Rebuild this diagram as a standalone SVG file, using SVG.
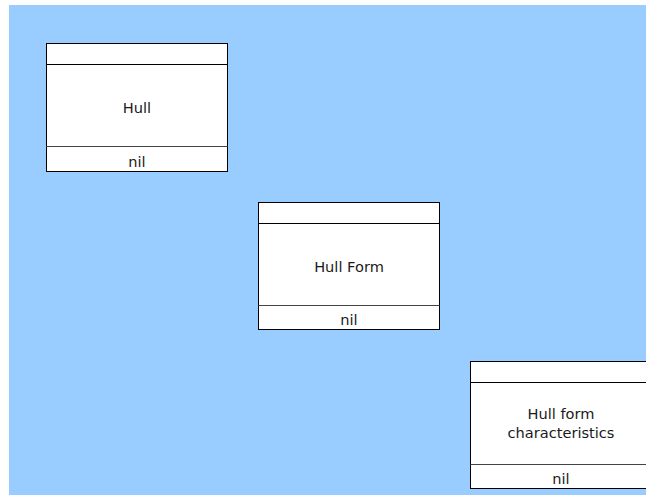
<svg xmlns="http://www.w3.org/2000/svg" width="646" height="495" viewBox="0 0 646 495">
<style>
.box{fill:#ffffff;stroke:#000000;stroke-width:1}
.ln{stroke:#000000;stroke-width:1}
.ln2{stroke:#444444;stroke-width:1}
text{font-family:"DejaVu Sans","Liberation Sans",sans-serif;font-size:14.6px;fill:#1a1a1a;text-anchor:middle}
</style>
<rect x="9" y="5" width="637" height="490" fill="#99ccff"/>
<g id="hull">
<rect class="box" x="46.5" y="43.5" width="181" height="128"/>
<line class="ln" x1="46.5" y1="64.5" x2="227.5" y2="64.5"/>
<line class="ln2" x1="46.5" y1="146.5" x2="227.5" y2="146.5"/>
<text x="137" y="113">Hull</text>
<text x="137" y="166.5">nil</text>
</g>
<g id="hull-form">
<rect class="box" x="258.5" y="202.5" width="181" height="127"/>
<line class="ln" x1="258.5" y1="223.5" x2="439.5" y2="223.5"/>
<line class="ln2" x1="258.5" y1="305.5" x2="439.5" y2="305.5"/>
<text x="349" y="272">Hull Form</text>
<text x="349" y="324.5">nil</text>
</g>
<g id="hull-form-characteristics">
<rect class="box" x="470.5" y="361.5" width="181" height="127"/>
<line class="ln" x1="470.5" y1="382.5" x2="651.5" y2="382.5"/>
<line class="ln2" x1="470.5" y1="464.5" x2="651.5" y2="464.5"/>
<text x="561" y="419">Hull form</text>
<text x="561" y="437.5">characteristics</text>
<text x="561" y="483.5">nil</text>
</g>
<g id="connectors"></g>
</svg>
